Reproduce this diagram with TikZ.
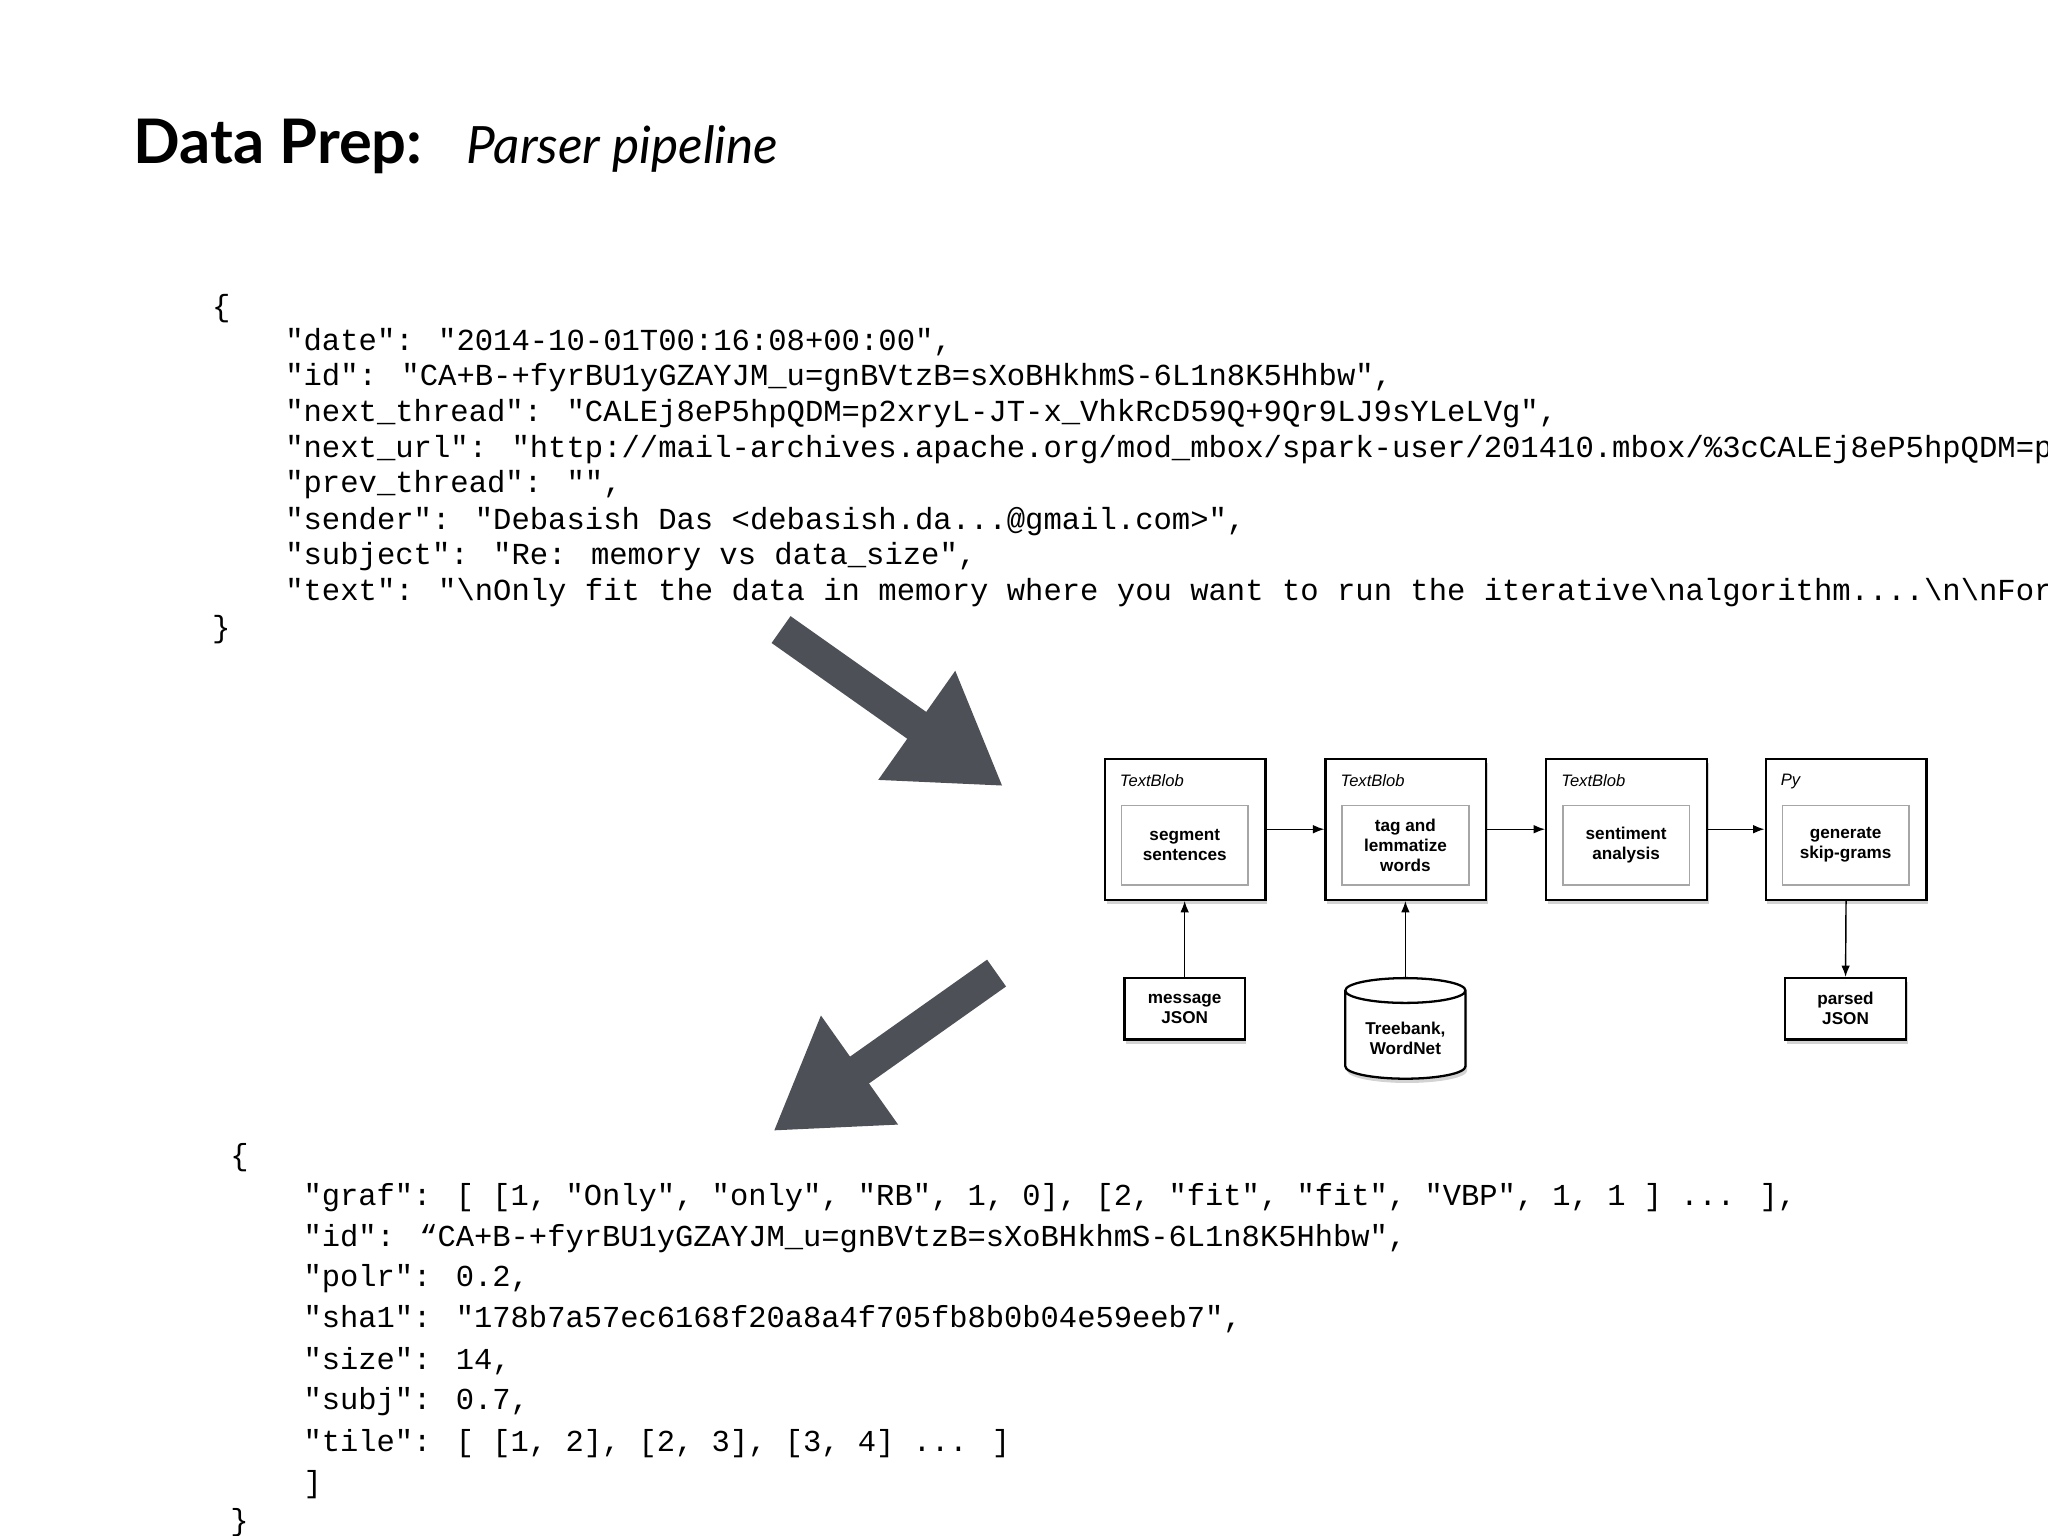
\documentclass[tikz,border=0pt]{standalone}
\usepackage{fontspec}
\setmainfont{Liberation Sans}
\newfontfamily\codefont{Liberation Mono}
\newfontfamily\titlefont{Lato}
\usetikzlibrary{arrows.meta,shadows,shapes.geometric}
\definecolor{bigarrow}{HTML}{4D5157}
\tikzset{
  code/.style={anchor=west,inner sep=0pt,font=\codefont\fontsize{10.7}{12}\selectfont},
  codeb/.style={anchor=west,inner sep=0pt,font=\codefont\fontsize{10.66}{12}\selectfont},
  outerbox/.style={draw,line width=0.8pt,fill=white,drop shadow={shadow xshift=0.6pt,shadow yshift=-1.5pt,opacity=0.35}},
  innerbox/.style={draw=gray!70,line width=0.5pt,fill=white,align=center,font=\bfseries\fontsize{6}{7}\selectfont},
  tool/.style={anchor=west,inner sep=0pt,font=\itshape\fontsize{5.8}{7}\selectfont},
  flow/.style={-{Latex[length=4pt,width=3pt]},line width=0.5pt},
  fat/.style={bigarrow,line width=11.5pt,-{Triangle[length=37pt,width=44pt]}},
}
\begin{document}
\begin{tikzpicture}[x=0.4571pt,y=-0.4571pt]
\useasboundingbox (0,0) rectangle (1568,1176);
\begin{scope}
\clip (0,0) rectangle (1568,1176);
% title
\node[anchor=base west,inner sep=0pt,font=\titlefont\bfseries\fontsize{21.5}{24}\selectfont] (t1) at (102,125) {Data Prep:};
\node[anchor=base west,inner sep=0pt,font=\titlefont\itshape\fontsize{18}{24}\selectfont] (t2) at (357,125) {Parser pipeline};
% top code
\node[code] (a0) at (162,236) {\{};
\node[code] (a1) at (218,262) {"date": "2014-10-01T00:16:08+00:00",};
\node[code] (a2) at (218,289) {"id": "CA+B-+fyrBU1yGZAYJM\_u=gnBVtzB=sXoBHkhmS-6L1n8K5Hhbw",};
\node[code] (a3) at (218,317) {"next\_thread": "CALEj8eP5hpQDM=p2xryL-JT-x\_VhkRcD59Q+9Qr9LJ9sYLeLVg",};
\node[code] (a4) at (218,344) {"next\_url": "http://mail-archives.apache.org/mod\_mbox/spark-user/201410.mbox/\%3cCALEj8eP5hpQDM=p2xryL};
\node[code] (a5) at (218,371) {"prev\_thread": "",};
\node[code] (a6) at (218,399) {"sender": "Debasish Das <debasish.da...@gmail.com>",};
\node[code] (a7) at (218,426) {"subject": "Re: memory vs data\_size",};
\node[code] (a8) at (218,454) {"text": "\textbackslash nOnly fit the data in memory where you want to run the iterative\textbackslash nalgorithm....\textbackslash n\textbackslash nFor};
\node[code] (a9) at (162,482) {\}};
% bottom code
\node[codeb] (b0) at (176,886) {\{};
\node[codeb] (b1) at (232,917) {"graf": [ [1, "Only", "only", "RB", 1, 0], [2, "fit", "fit", "VBP", 1, 1 ] ... ],};
\node[codeb] (b2) at (232,948) {"id": “CA+B-+fyrBU1yGZAYJM\_u=gnBVtzB=sXoBHkhmS-6L1n8K5Hhbw",};
\node[codeb] (b3) at (232,979) {"polr": 0.2,};
\node[codeb] (b4) at (232,1010) {"sha1": "178b7a57ec6168f20a8a4f705fb8b0b04e59eeb7",};
\node[codeb] (b5) at (232,1042) {"size": 14,};
\node[codeb] (b6) at (232,1073) {"subj": 0.7,};
\node[codeb] (b7) at (232,1105) {"tile": [ [1, 2], [2, 3], [3, 4] ... ]};
\node[codeb] (b8) at (232,1137) {]};
\node[codeb] (b9) at (176,1166) {\}};
\end{scope}
% big arrows
\coordinate (f1s) at (598,482);
\coordinate (f1e) at (768,602);
\coordinate (f2s) at (763,745);
\coordinate (f2e) at (592,866);
\draw[fat] (f1s) -- (f1e);
\draw[fat] (f2s) -- (f2e);
% pipeline
\foreach \i/\x/\tl/\txt in {1/845/TextBlob/{segment\\sentences},2/1014/TextBlob/{tag and\\lemmatize\\words},3/1183/TextBlob/{sentiment\\analysis},4/1351/Py/{generate\\skip-grams}}{
  \node[outerbox,minimum width=123*0.4571pt,minimum height=108*0.4571pt,anchor=north west] (o\i) at (\x,580) {};
  \node[tool] (l\i) at (\x+12,598) {\tl};
  \node[innerbox,minimum width=97*0.4571pt,minimum height=61*0.4571pt,anchor=north west] (n\i) at (\x+13,616) {\txt};
}
\draw[flow] (o1.east) -- (o2.west);
\draw[flow] (o2.east) -- (o3.west);
\draw[flow] (o3.east) -- (o4.west);
\node[outerbox,innerbox,draw=black,line width=0.8pt,minimum width=92*0.4571pt,minimum height=47*0.4571pt,anchor=north] (m) at (907,748) {message\\JSON};
\node[outerbox,innerbox,draw=black,line width=0.8pt,minimum width=93*0.4571pt,minimum height=47*0.4571pt,anchor=north] (p) at (1413,748) {parsed\\JSON};
\node[outerbox,innerbox,draw=black,line width=0.8pt,cylinder,shape border rotate=90,aspect=0.25,minimum width=92*0.4571pt,minimum height=77*0.4571pt,anchor=north] (c) at (1076,748) {Treebank,\\WordNet};
\draw[flow] (m.north) -- (m.north |- o1.south);
\draw[flow] (c.north) -- (c.north |- o2.south);
\draw[flow] (o4.south) -- (p.north);
\end{tikzpicture}
\end{document}
